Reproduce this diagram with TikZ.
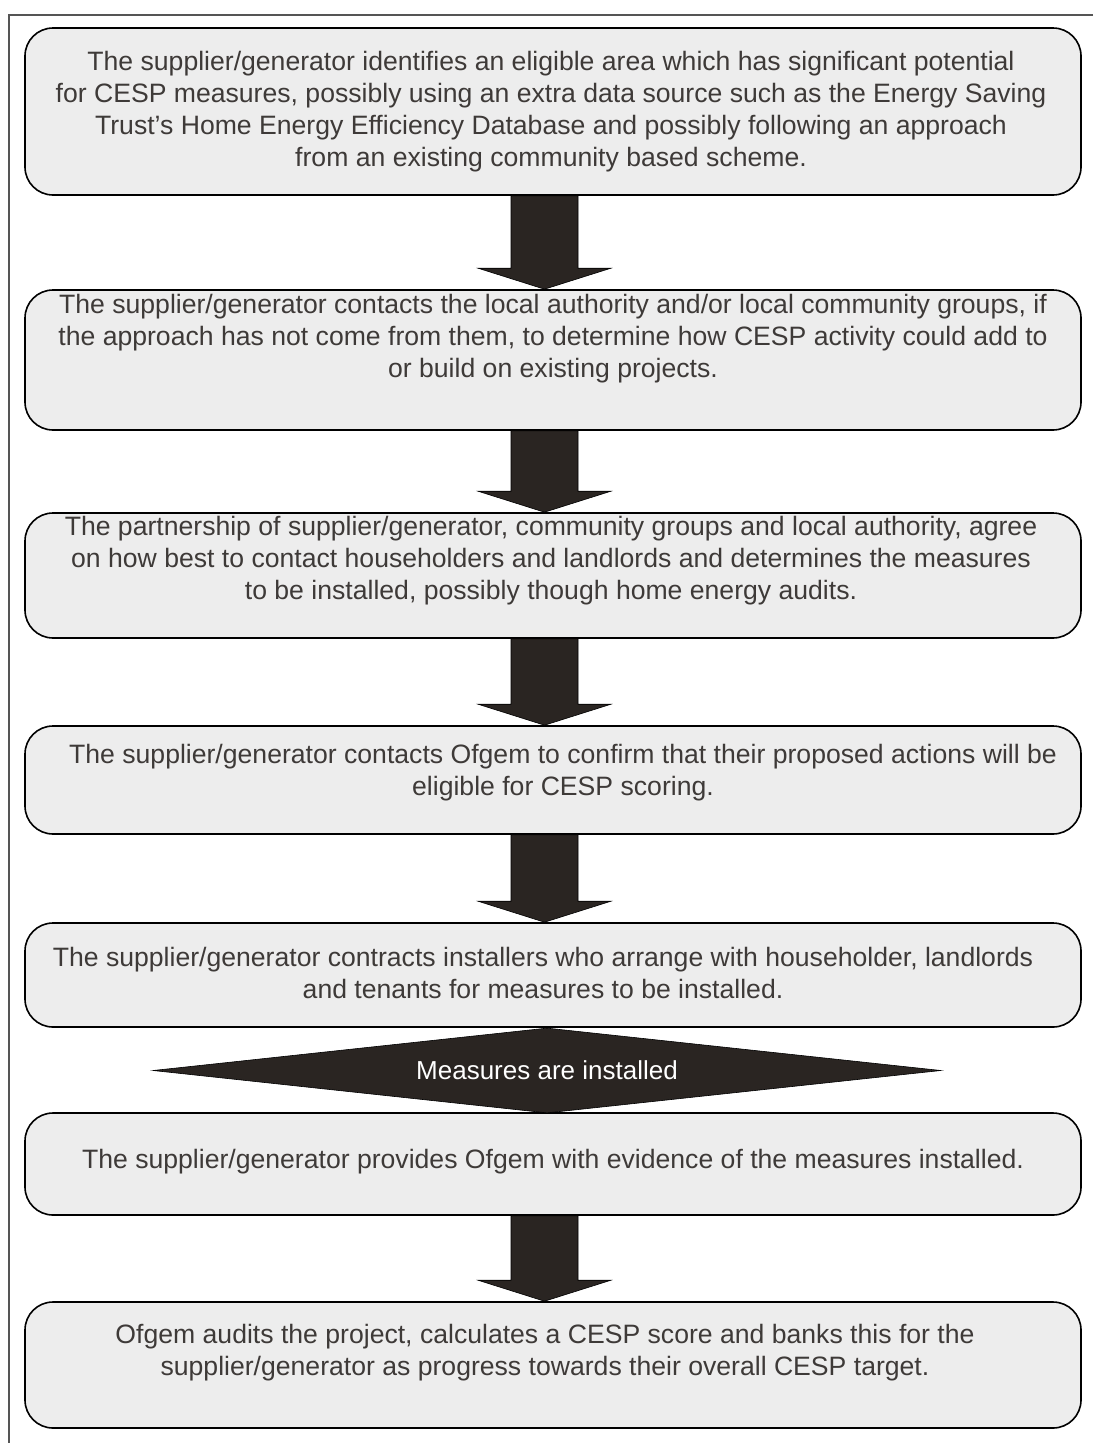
\documentclass[tikz,border=0pt]{standalone}
\usepackage{fontspec}
\setmainfont{Liberation Sans}
\usetikzlibrary{shapes.geometric,calc}
\definecolor{boxfill}{HTML}{EDEDED}
\definecolor{txt}{HTML}{3E3A38}
\definecolor{arrowfill}{HTML}{2A2522}
\definecolor{frame}{HTML}{555555}
\tikzset{
  stepbox/.style={draw=black, line width=1.6pt, fill=boxfill, rounded corners=28pt,
    minimum width=1056pt, inner sep=0pt},
  steptext/.style={text=txt, align=center, inner sep=0pt,
    font=\fontsize{26.6}{32}\selectfont},
  bigarrow/.style={fill=arrowfill, draw=black, line width=0.6pt},
  decision/.style={diamond, aspect=9.27, fill=arrowfill, draw=black, line width=0.6pt,
    minimum width=788pt, minimum height=85pt, inner sep=0pt, text=white,
    font=\fontsize{26}{32}\selectfont}
}
\newcommand{\downarrowshape}[2]{%
  \fill[bigarrow] let \p1=($(#1.south)+(-8.5,0)$), \p2=($(#2.north)+(-8.5,0)$) in
    (\x1-33.5pt,\y1) -- (\x1+33.5pt,\y1) -- (\x1+33.5pt,\y2+21pt) -- (\x1+66.5pt,\y2+21pt)
    -- (\x1,\y2) -- (\x1-66.5pt,\y2+21pt) -- (\x1-33.5pt,\y2+21pt) -- cycle;}
\begin{document}
\begin{tikzpicture}[x=1pt,y=-1pt]
\useasboundingbox (0,0) rectangle (1093,1443);
% outer frame lines
\coordinate (fr1) at (8,15);
\coordinate (fr2) at (1093,15);
\coordinate (fr3) at (9,1443);
\draw[frame, line width=1.3pt] (fr2) -- (fr1 -| fr3) -- (fr3);

% boxes
\node[stepbox, minimum height=167pt] (b1) at (553,111.5) {};
\node[stepbox, minimum height=140pt] (b2) at (553,360) {};
\node[stepbox, minimum height=125pt] (b3) at (553,575.5) {};
\node[stepbox, minimum height=108pt] (b4) at (553,780) {};
\node[stepbox, minimum height=104pt] (b5) at (553,975) {};
\node[stepbox, minimum height=102pt] (b6) at (553,1164) {};
\node[stepbox, minimum height=126pt] (b7) at (553,1365) {};

% texts
\node[steptext] (t1) at (551,112) {The supplier/generator identifies an eligible area which has significant potential\\for CESP measures, possibly using an extra data source such as the Energy Saving\\Trust’s Home Energy Efficiency Database and possibly following an approach\\from an existing community based scheme.};
\node[steptext] (t2) at (553,339) {The supplier/generator contacts the local authority and/or local community groups, if\\the approach has not come from them, to determine how CESP activity could add to\\or build on existing projects.};
\node[steptext] (t3) at (551,561) {The partnership of supplier/generator, community groups and local authority, agree\\on how best to contact householders and landlords and determines the measures\\to be installed, possibly though home energy audits.};
\node[steptext] (t4) at (563,773) {The supplier/generator contacts Ofgem to confirm that their proposed actions will be\\eligible for CESP scoring.};
\node[steptext] (t5) at (543,973) {The supplier/generator contracts installers who arrange with householder, landlords\\and tenants for measures to be installed.};
\node[steptext] (t6) at (553,1162) {The supplier/generator provides Ofgem with evidence of the measures installed.};
\node[steptext] (t7) at (545,1353) {Ofgem audits the project, calculates a CESP score and banks this for the\\supplier/generator as progress towards their overall CESP target.};

% arrows
\downarrowshape{b1}{b2}
\downarrowshape{b2}{b3}
\downarrowshape{b3}{b4}
\downarrowshape{b4}{b5}
\downarrowshape{b6}{b7}

% decision diamond
\node[decision] (d1) at (547,1070.5) {Measures are installed};
\end{tikzpicture}
\end{document}
